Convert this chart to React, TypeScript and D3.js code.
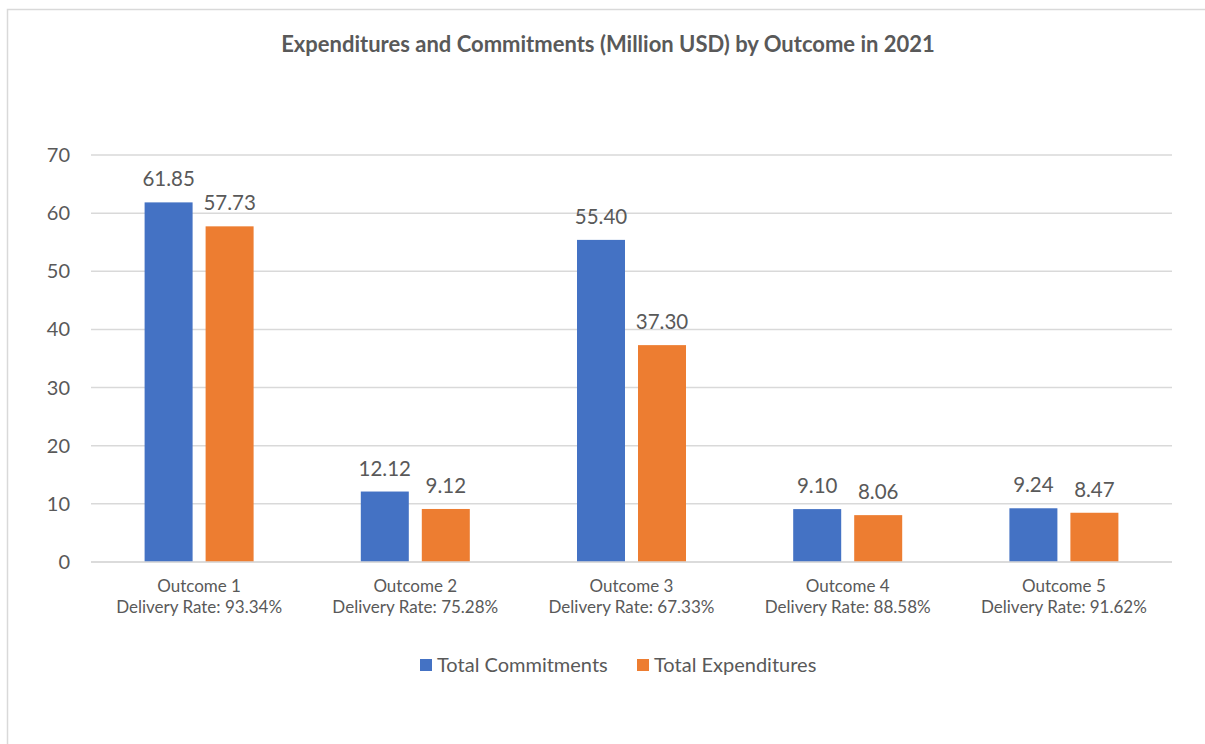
import React from "react";
import * as d3 from "d3";

const categories = ["Outcome 1", "Outcome 2", "Outcome 3", "Outcome 4", "Outcome 5"];
const deliveryRates = ["93.34%", "75.28%", "67.33%", "88.58%", "91.62%"];
const commitments = [61.85, 12.12, 55.4, 9.1, 9.24];
const expenditures = [57.73, 9.12, 37.3, 8.06, 8.47];
const yTicks = [0, 10, 20, 30, 40, 50, 60, 70];
const seriesNames = ["Total Commitments", "Total Expenditures"];
const seriesColors = ["#4472C4", "#ED7D31"];
const title = "Expenditures and Commitments (Million USD) by Outcome in 2021";

const W = 1205;
const H = 744;
const FONT = "Lato, 'Open Sans', sans-serif";
const TEXT = "#595959";

export default function App() {
  const plotL = 91, plotR = 1172, plotT = 155, plotB = 562;
  const x = d3.scaleBand<string>().domain(categories).range([plotL, plotR]);
  const y = d3.scaleLinear().domain([0, 70]).range([plotB, plotT]);
  const barW = 48;
  const gap = 13;
  const series = [commitments, expenditures];

  return (
    <svg
      width={W}
      height={H}
      style={{ position: "absolute", left: 0, top: 0, display: "block", background: "#fff" }}
      fontFamily={FONT}
    >
      <rect x={7.5} y={9.5} width={W + 10} height={H + 10} fill="#fff" stroke="#D9D9D9" strokeWidth={1.5} />
      <text x={608} y={52} textAnchor="middle" fontSize={22} fontWeight="bold" fill={TEXT}>
        {title}
      </text>
      {yTicks.map((t) => (
        <g key={t}>
          <line x1={plotL} x2={plotR} y1={y(t)} y2={y(t)} stroke="#D9D9D9" strokeWidth={1.5} />
          <text x={70} y={y(t) + 7} textAnchor="end" fontSize={20} fill={TEXT}>
            {t}
          </text>
        </g>
      ))}
      {categories.map((c, i) => {
        const cx = (x(c) as number) + x.bandwidth() / 2;
        return (
          <g key={c}>
            {series.map((s, j) => {
              const bx = j === 0 ? cx - gap / 2 - barW : cx + gap / 2;
              const by = y(s[i]);
              return (
                <g key={j}>
                  <rect x={bx} y={by} width={barW} height={plotB - by} fill={seriesColors[j]} />
                  <text x={bx + barW / 2} y={by - 16} textAnchor="middle" fontSize={20.5} fill={TEXT}>
                    {s[i].toFixed(2)}
                  </text>
                </g>
              );
            })}
            <text x={cx} y={592} textAnchor="middle" fontSize={17} fill={TEXT}>
              {c}
            </text>
            <text x={cx} y={613} textAnchor="middle" fontSize={17} fill={TEXT}>
              {"Delivery Rate: " + deliveryRates[i]}
            </text>
          </g>
        );
      })}
      <line x1={plotL} x2={plotR} y1={plotB} y2={plotB} stroke="#D9D9D9" strokeWidth={1.5} />
      {seriesNames.map((n, j) => {
        const lx = j === 0 ? 420 : 637;
        return (
          <g key={n}>
            <rect x={lx} y={659} width={12} height={12} fill={seriesColors[j]} />
            <text x={lx + 17} y={672} fontSize={20} fill={TEXT}>
              {n}
            </text>
          </g>
        );
      })}
    </svg>
  );
}
